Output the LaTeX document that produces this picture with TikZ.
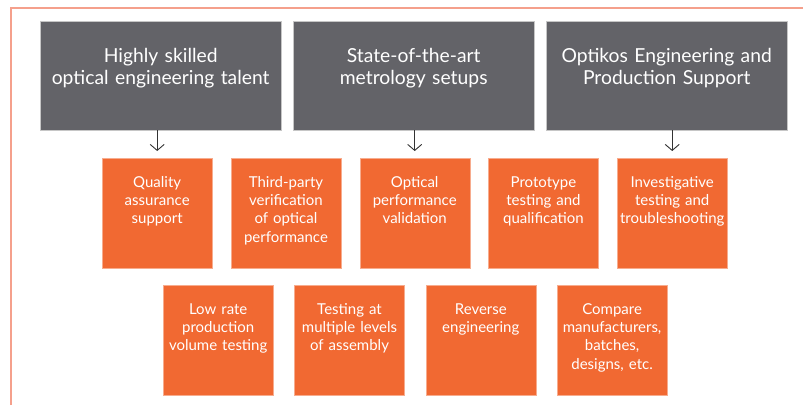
\documentclass[tikz,border=0pt]{standalone}
\usepackage{fontspec}
\setmainfont{Lato}
\usetikzlibrary{positioning}
\usetikzlibrary{arrows.meta}
\definecolor{optgray}{RGB}{99,99,104}
\definecolor{optorange}{RGB}{241,105,50}
\definecolor{optframe}{RGB}{245,160,140}
\tikzset{x=1pt, y=-1pt,
         pillar/.style={draw=gray!45, fill=optgray, text=white,
                        minimum width=241pt, minimum height=109pt,
                        text width=235pt, align=center, inner sep=3pt,
                        text height=38pt, text depth=65pt,
                        font=\fontsize{19.3}{22}\selectfont},
         service/.style={draw=optorange!55!white, fill=optorange, text=white,
                         minimum width=110pt, minimum height=110pt,
                         text width=106pt, align=center, inner sep=2pt,
                         text height=27pt, text depth=79pt,
                         font=\fontsize{15}{18.3}\selectfont},
         every edge/.style={draw, -{Straight Barb[length=6pt,width=14pt]},
                            line width=0.9pt, black!80, shorten >=7pt} }

\begin{document}
\begin{tikzpicture}
    \useasboundingbox (0,0) rectangle (803,405);
    \draw[optframe, line width=1.3pt] (11,405) -- (11,8) -- (803,8);

    % top row
    \node[pillar, anchor=north west] (g1) at (40,21) {Highly skilled\\optical engineering talent};
    \node[pillar, right of=g1, node distance=253pt] (g2) {State-of-the-art\\metrology setups};
    \node[pillar, right of=g2, node distance=253pt] (g3) {Optikos Engineering and\\Production Support};

    % services, first row
    \node[service, anchor=north west] (q1) at (102,158) {Quality\\assurance\\support};
    \node[service, right of=q1, node distance=128.75pt] (q2) {Third-party\\verification\\of optical\\performance};
    \node[service, right of=q2, node distance=128.75pt] (q3) {Optical\\performance\\validation};
    \node[service, right of=q3, node distance=128.75pt] (q4) {Prototype\\testing and\\qualification};
    \node[service, right of=q4, node distance=128.75pt] (q5) {Investigative\\testing and\\troubleshooting};

    % services, second row
    \node[service, anchor=north west] (r1) at (163,285) {Low rate\\production\\volume testing};
    \node[service, right of=r1, node distance=131.3pt] (r2) {Testing at\\multiple levels\\of assembly};
    \node[service, right of=r2, node distance=131.3pt] (r3) {Reverse\\engineering};
    \node[service, right of=r3, node distance=131.3pt] (r4) {Compare\\manufacturers,\\batches,\\designs, etc.};

    \draw (q1 |- g1.south) edge (q1.north);
    \draw (q3 |- g2.south) edge (q3.north);
    \draw (q5 |- g3.south) edge (q5.north);
\end{tikzpicture}
\end{document}
